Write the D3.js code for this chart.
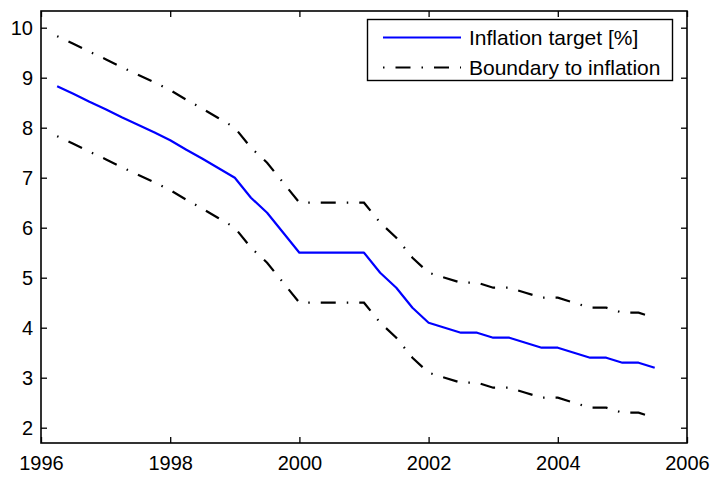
<!DOCTYPE html>
<html>
<head>
<meta charset="utf-8">
<script src="https://cdn.jsdelivr.net/npm/d3@7"></script>
<style>
  html, body { margin: 0; padding: 0; background: #fff; }
  svg { display: block; font-family: "Liberation Sans", Arial, Helvetica, sans-serif; }
</style>
</head>
<body>
<svg id="chart" width="714" height="477"></svg>
<script>
// Quarterly dates (decimal years)
const quarters = [
  1996.25, 1996.5, 1996.75, 1997, 1997.25, 1997.5, 1997.75, 1998,
  1998.25, 1998.5, 1998.75, 1999, 1999.25, 1999.5, 1999.75, 2000,
  2000.25, 2000.5, 2000.75, 2001, 2001.25, 2001.5, 2001.75, 2002,
  2002.25, 2002.5, 2002.75, 2003, 2003.25, 2003.5, 2003.75, 2004,
  2004.25, 2004.5, 2004.75, 2005, 2005.25, 2005.5
];
// Inflation target path [%]
const target = [
  8.83, 8.68, 8.52, 8.37, 8.21, 8.06, 7.91, 7.75,
  7.56, 7.38, 7.19, 7.0, 6.6, 6.3, 5.9, 5.5,
  5.5, 5.5, 5.5, 5.5, 5.1, 4.8, 4.4, 4.1,
  4.0, 3.9, 3.9, 3.8, 3.8, 3.7, 3.6, 3.6,
  3.5, 3.4, 3.4, 3.3, 3.3, 3.2
];
// Upper tolerance band
const upperBound = [
  9.83, 9.68, 9.52, 9.37, 9.21, 9.06, 8.91, 8.75,
  8.56, 8.38, 8.19, 8.0, 7.6, 7.3, 6.9, 6.5,
  6.5, 6.5, 6.5, 6.5, 6.1, 5.8, 5.4, 5.1,
  5.0, 4.9, 4.9, 4.8, 4.8, 4.7, 4.6, 4.6,
  4.5, 4.4, 4.4, 4.3, 4.3, 4.2
];
// Lower tolerance band
const lowerBound = [
  7.83, 7.68, 7.52, 7.37, 7.21, 7.06, 6.91, 6.75,
  6.56, 6.38, 6.19, 6.0, 5.6, 5.3, 4.9, 4.5,
  4.5, 4.5, 4.5, 4.5, 4.1, 3.8, 3.4, 3.1,
  3.0, 2.9, 2.9, 2.8, 2.8, 2.7, 2.6, 2.6,
  2.5, 2.4, 2.4, 2.3, 2.3, 2.2
];
const xTicks = [1996, 1998, 2000, 2002, 2004, 2006];
const yTicks = [2, 3, 4, 5, 6, 7, 8, 9, 10];
const legendLabels = ["Inflation target [%]", "Boundary to inflation"];

const svg = d3.select("#chart");
const plot = { left: 41, right: 687, top: 11, bottom: 443 };

const x = d3.scaleLinear().domain([1996, 2006]).range([plot.left, plot.right]);
const y = d3.scaleLinear().domain([1.694, 10.334]).range([plot.bottom, plot.top]);

const FONT = 20;
const LEGEND_FONT = 21;
const DASHDOT = "1.5,11,15,11";

// Axes with inward ticks, mirrored on top and right
const gx = svg.append("g").attr("transform", `translate(0,${plot.bottom})`)
  .call(d3.axisBottom(x).tickValues(xTicks).tickFormat(d3.format("d")).tickSize(-6).tickPadding(13));
const gxTop = svg.append("g").attr("transform", `translate(0,${plot.top})`)
  .call(d3.axisTop(x).tickValues(xTicks).tickFormat("").tickSize(-6));
const gy = svg.append("g").attr("transform", `translate(${plot.left},0)`)
  .call(d3.axisLeft(y).tickValues(yTicks).tickSize(-6).tickPadding(8));
const gyRight = svg.append("g").attr("transform", `translate(${plot.right},0)`)
  .call(d3.axisRight(y).tickValues(yTicks).tickFormat("").tickSize(-6));

[gx, gxTop, gy, gyRight].forEach(g => {
  g.select(".domain").remove();
  g.selectAll(".tick line").attr("stroke", "#000").attr("stroke-width", 1.3);
  g.selectAll(".tick text").attr("fill", "#000").attr("font-size", FONT)
    .attr("font-family", "Liberation Sans, Arial, sans-serif");
});
gy.selectAll(".tick text").attr("dy", "0.35em");

// Plot frame
svg.append("rect")
  .attr("x", plot.left).attr("y", plot.top)
  .attr("width", plot.right - plot.left).attr("height", plot.bottom - plot.top)
  .attr("fill", "none").attr("stroke", "#000").attr("stroke-width", 1.6);

const line = d3.line().x(d => x(d[0])).y(d => y(d[1]));
const pairs = arr => quarters.map((q, i) => [q, arr[i]]);

svg.append("path").datum(pairs(upperBound)).attr("d", line)
  .attr("fill", "none").attr("stroke", "#000").attr("stroke-width", 2.2)
  .attr("stroke-dasharray", DASHDOT);
svg.append("path").datum(pairs(lowerBound)).attr("d", line)
  .attr("fill", "none").attr("stroke", "#000").attr("stroke-width", 2.2)
  .attr("stroke-dasharray", DASHDOT);
svg.append("path").datum(pairs(target)).attr("d", line)
  .attr("fill", "none").attr("stroke", "#0000ff").attr("stroke-width", 2.2)
  .attr("stroke-linejoin", "round");

// Legend
const lg = svg.append("g");
lg.append("rect").attr("x", 367.5).attr("y", 19.5).attr("width", 305).attr("height", 61)
  .attr("fill", "#fff").attr("stroke", "#000").attr("stroke-width", 1.4);
const rows = [
  { label: legendLabels[0], color: "#0000ff", dash: null, cy: 37.5 },
  { label: legendLabels[1], color: "#000", dash: DASHDOT, cy: 67.5 }
];
rows.forEach(r => {
  lg.append("line").attr("x1", 383).attr("x2", 461).attr("y1", r.cy).attr("y2", r.cy)
    .attr("stroke", r.color).attr("stroke-width", 2.2)
    .attr("stroke-dasharray", r.dash);
  lg.append("text").attr("x", 469).attr("y", r.cy).attr("dy", "0.35em")
    .attr("font-size", LEGEND_FONT).attr("fill", "#000").text(r.label);
});
</script>
</body>
</html>
